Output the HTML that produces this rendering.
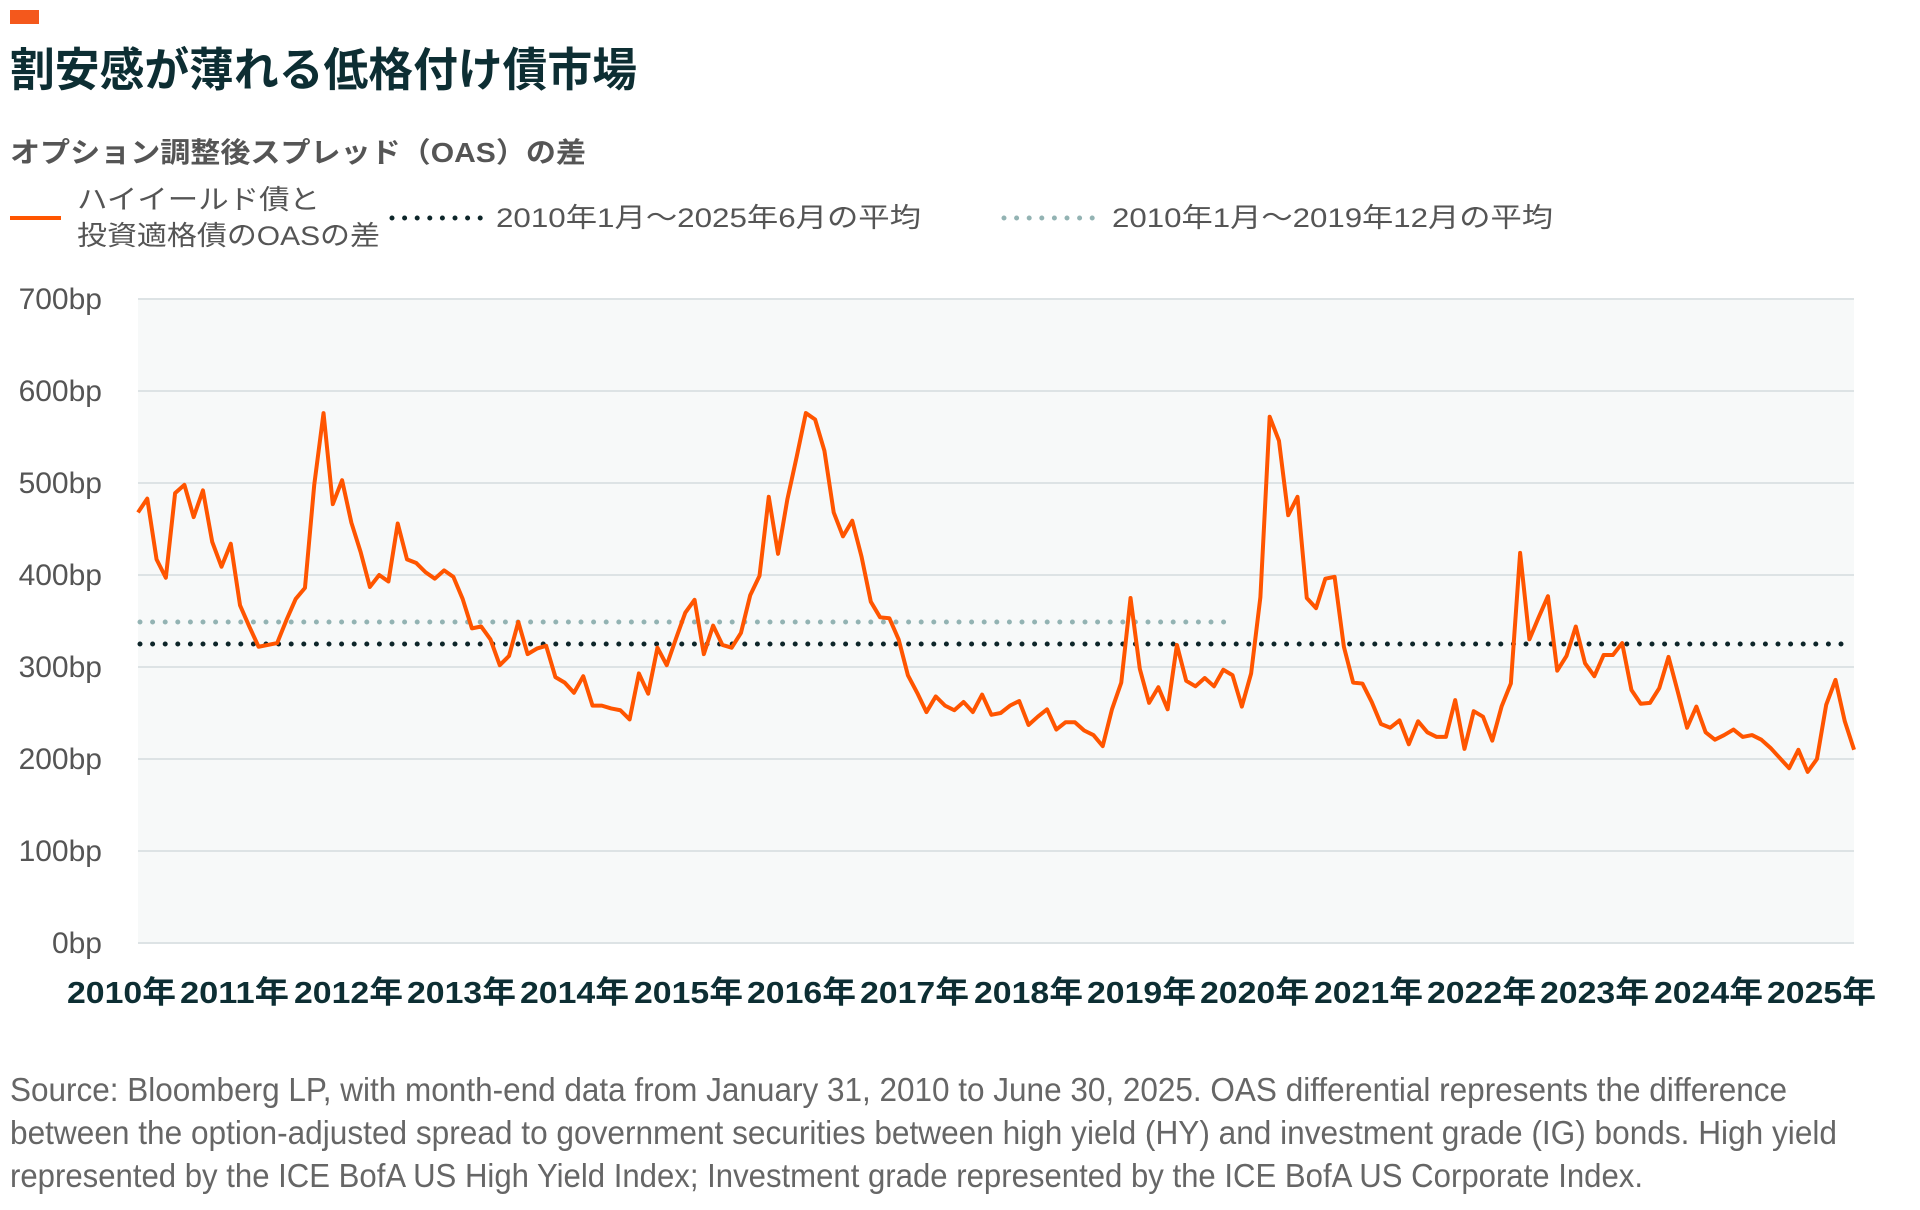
<!DOCTYPE html>
<html><head><meta charset="utf-8"><style>
html,body{margin:0;padding:0;background:#fff;}
svg{display:block;}
text{font-family:"Liberation Sans","Noto Sans CJK JP",sans-serif;}
</style></head><body>
<svg width="1920" height="1210" viewBox="0 0 1920 1210" xmlns="http://www.w3.org/2000/svg">
<rect x="10" y="10" width="29" height="14" fill="#f4581c"/>
<text x="10" y="86" font-size="46" font-weight="bold" fill="#0d2e33" textLength="627" lengthAdjust="spacingAndGlyphs">割安感が薄れる低格付け債市場</text>
<text x="10" y="162" font-size="28" font-weight="bold" fill="#555" textLength="576" lengthAdjust="spacingAndGlyphs">オプション調整後スプレッド（OAS）の差</text>
<line x1="10" y1="218" x2="61" y2="218" stroke="#ff5500" stroke-width="4"/>
<text x="77" y="209" font-size="27" fill="#555" textLength="243" lengthAdjust="spacingAndGlyphs">ハイイールド債と</text>
<text x="77" y="245" font-size="27" fill="#555" textLength="303" lengthAdjust="spacingAndGlyphs">投資適格債のOASの差</text>
<line x1="392" y1="218" x2="486" y2="218" stroke="#0d2529" stroke-width="5" stroke-linecap="round" stroke-dasharray="0 12.6"/>
<text x="496" y="227" font-size="27" fill="#555" textLength="425" lengthAdjust="spacingAndGlyphs">2010年1月～2025年6月の平均</text>
<line x1="1004" y1="218" x2="1099" y2="218" stroke="#93b3b3" stroke-width="5" stroke-linecap="round" stroke-dasharray="0 12.6"/>
<text x="1112" y="227" font-size="27" fill="#555" textLength="441" lengthAdjust="spacingAndGlyphs">2010年1月～2019年12月の平均</text>
<rect x="138" y="298" width="1716" height="645" fill="#f7f9f9"/>
<g stroke="#dde3e5" stroke-width="2">
<line x1="138" y1="299" x2="1854" y2="299"/><line x1="138" y1="391" x2="1854" y2="391"/><line x1="138" y1="483" x2="1854" y2="483"/><line x1="138" y1="575" x2="1854" y2="575"/><line x1="138" y1="667" x2="1854" y2="667"/><line x1="138" y1="759" x2="1854" y2="759"/><line x1="138" y1="851" x2="1854" y2="851"/><line x1="138" y1="943" x2="1854" y2="943"/>
</g>
<g font-size="30" fill="#555" text-anchor="end">
<text x="102" y="309">700bp</text><text x="102" y="401">600bp</text><text x="102" y="493">500bp</text><text x="102" y="585">400bp</text><text x="102" y="677">300bp</text><text x="102" y="769">200bp</text><text x="102" y="861">100bp</text><text x="102" y="953">0bp</text>
</g>
<line x1="140" y1="622" x2="1232" y2="622" stroke="#93b3b3" stroke-width="5" stroke-linecap="round" stroke-dasharray="0 12.6"/>
<line x1="140" y1="644" x2="1846" y2="644" stroke="#0d2529" stroke-width="5" stroke-linecap="round" stroke-dasharray="0 12.6"/>
<g transform="translate(138,943) scale(9.276,-0.92)">
<polyline fill="none" stroke="#ff5500" stroke-width="4" stroke-linejoin="round" vector-effect="non-scaling-stroke" points="0,468 1,483 2,417 3,397 4,489 5,498 6,463 7,492 8,436 9,409 10,434 11,367 12,344 13,322 14,324 15,326 16,351 17,374 18,386 19,498 20,576 21,477 22,503 23,457 24,425 25,387 26,400 27,393 28,456 29,417 30,413 31,403 32,396 33,405 34,398 35,374 36,342 37,344 38,330 39,302 40,312 41,349 42,314 43,320 44,323 45,289 46,283 47,272 48,290 49,258 50,258 51,255 52,253 53,243 54,293 55,271 56,321 57,302 58,331 59,359 60,373 61,314 62,345 63,324 64,321 65,337 66,378 67,399 68,485 69,423 70,482 71,528 72,576 73,569 74,535 75,468 76,442 77,459 78,420 79,371 80,354 81,353 82,330 83,291 84,272 85,251 86,268 87,258 88,253 89,262 90,251 91,270 92,248 93,250 94,258 95,263 96,237 97,246 98,254 99,232 100,240 101,240 102,231 103,226 104,214 105,254 106,283 107,375 108,298 109,261 110,278 111,254 112,324 113,285 114,279 115,288 116,279 117,297 118,291 119,257 120,293 121,376 122,572 123,546 124,465 125,485 126,375 127,364 128,396 129,398 130,322 131,283 132,282 133,262 134,238 135,234 136,242 137,216 138,241 139,229 140,224 141,224 142,264 143,211 144,252 145,246 146,220 147,257 148,282 149,424 150,330 151,354 152,377 153,296 154,312 155,344 156,304 157,290 158,313 159,313 160,326 161,275 162,260 163,261 164,277 165,311 166,273 167,234 168,257 169,229 170,221 171,226 172,232 173,224 174,226 175,221 176,212 177,201 178,190 179,210 180,186 181,200 182,259 183,286 184,241 185,210"/>
</g>
<g font-size="31" font-weight="bold" fill="#0d2e33">
<text x="67" y="1003" textLength="109" lengthAdjust="spacingAndGlyphs">2010年</text>
<text x="180" y="1003" textLength="109" lengthAdjust="spacingAndGlyphs">2011年</text>
<text x="294" y="1003" textLength="109" lengthAdjust="spacingAndGlyphs">2012年</text>
<text x="407" y="1003" textLength="109" lengthAdjust="spacingAndGlyphs">2013年</text>
<text x="520" y="1003" textLength="109" lengthAdjust="spacingAndGlyphs">2014年</text>
<text x="634" y="1003" textLength="109" lengthAdjust="spacingAndGlyphs">2015年</text>
<text x="747" y="1003" textLength="109" lengthAdjust="spacingAndGlyphs">2016年</text>
<text x="860" y="1003" textLength="109" lengthAdjust="spacingAndGlyphs">2017年</text>
<text x="974" y="1003" textLength="109" lengthAdjust="spacingAndGlyphs">2018年</text>
<text x="1087" y="1003" textLength="109" lengthAdjust="spacingAndGlyphs">2019年</text>
<text x="1200" y="1003" textLength="109" lengthAdjust="spacingAndGlyphs">2020年</text>
<text x="1314" y="1003" textLength="109" lengthAdjust="spacingAndGlyphs">2021年</text>
<text x="1427" y="1003" textLength="109" lengthAdjust="spacingAndGlyphs">2022年</text>
<text x="1540" y="1003" textLength="109" lengthAdjust="spacingAndGlyphs">2023年</text>
<text x="1654" y="1003" textLength="109" lengthAdjust="spacingAndGlyphs">2024年</text>
<text x="1767" y="1003" textLength="109" lengthAdjust="spacingAndGlyphs">2025年</text>
</g>
<g font-size="33" fill="#666">
<text x="10" y="1101" textLength="1777" lengthAdjust="spacingAndGlyphs">Source: Bloomberg LP, with month-end data from January 31, 2010 to June 30, 2025. OAS differential represents the difference</text>
<text x="10" y="1144" textLength="1827" lengthAdjust="spacingAndGlyphs">between the option-adjusted spread to government securities between high yield (HY) and investment grade (IG) bonds. High yield</text>
<text x="10" y="1187" textLength="1633" lengthAdjust="spacingAndGlyphs">represented by the ICE BofA US High Yield Index; Investment grade represented by the ICE BofA US Corporate Index.</text>
</g>
</svg>
</body></html>
